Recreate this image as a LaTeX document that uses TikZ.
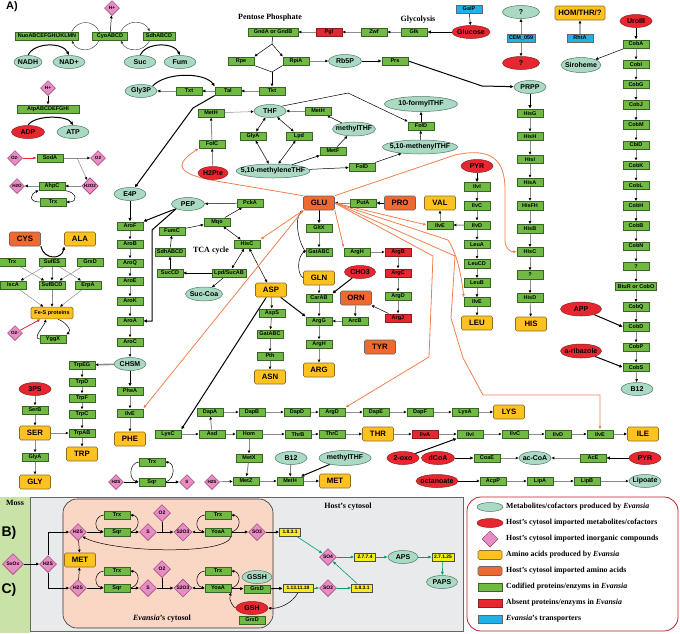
\documentclass[tikz,border=0pt]{standalone}
\usepackage{fontspec}
\setmainfont{Liberation Serif}
\setsansfont{Liberation Sans}
\usetikzlibrary{shapes.geometric,arrows.meta,calc}

\definecolor{enzg}{RGB}{112,186,68}
\definecolor{enzd}{RGB}{56,100,40}
\definecolor{metg}{RGB}{170,218,196}
\definecolor{metd}{RGB}{80,120,100}
\definecolor{impr}{RGB}{232,38,48}
\definecolor{impd}{RGB}{140,30,30}
\definecolor{inop}{RGB}{234,140,196}
\definecolor{inod}{RGB}{140,60,110}
\definecolor{aay}{RGB}{255,194,30}
\definecolor{aad}{RGB}{140,110,40}
\definecolor{iaao}{RGB}{240,106,48}
\definecolor{trnb}{RGB}{30,178,230}
\definecolor{ecy}{RGB}{246,238,28}
\definecolor{orl}{RGB}{240,128,80}
\definecolor{hstg}{RGB}{0,160,110}
\definecolor{mossg}{RGB}{200,226,168}
\definecolor{hostc}{RGB}{232,234,236}
\definecolor{evac}{RGB}{250,214,196}

\newcommand\fsz[1]{\fontsize{#1}{#1}\selectfont}

\pgfdeclarelayer{back}
\pgfdeclarelayer{bg}
\pgfsetlayers{back,bg,main}

\tikzset{
  enz/.style={draw=enzd, fill=enzg, line width=0.5pt, minimum height=8.5pt, minimum width=26pt,
    inner xsep=2pt, inner ysep=0.5pt, font=\fsz{5.5}\sffamily\bfseries},
  absent/.style={enz, fill=impr, draw=impd},
  trn/.style={enz, fill=trnb, draw=black!60},
  ec/.style={enz, fill=ecy, draw=black!70, minimum width=21pt, font=\fsz{4.9}\sffamily\bfseries},
  met/.style={ellipse, draw=metd, fill=metg, line width=0.5pt, inner xsep=-6pt, inner ysep=0.6pt,
    minimum height=13pt, minimum width=32pt, font=\fsz{7}\sffamily\bfseries},
  imp/.style={met, fill=impr, draw=impd},
  ino/.style={diamond, aspect=1, draw=inod, fill=inop, line width=0.5pt, inner sep=0.4pt,
    minimum size=15pt, font=\fsz{4.6}\sffamily\bfseries},
  inob/.style={ino, minimum size=17pt, font=\fsz{5}\sffamily\bfseries},
  aa/.style={rounded corners=1.5pt, draw=aad, fill=aay, line width=0.6pt, minimum height=14pt,
    minimum width=31pt, font=\fsz{7.8}\sffamily\bfseries},
  iaa/.style={aa, fill=iaao, draw=black!60},
  arr/.style={draw=black!45, line width=0.9pt, -{Latex[length=3pt,width=3pt,color=black]}},
  arw/.style={draw=black!45, line width=0.5pt, -{Latex[length=3pt,width=3pt,color=black]}},
  thk/.style={draw=black, line width=1pt, -{Latex[length=3.5pt,width=3.5pt]}},
  thn/.style={draw=black, line width=0.5pt, -{Latex[length=3pt,width=3pt]}},
  dbl/.style={draw=black, line width=0.5pt, {Latex[length=3pt,width=3pt]}-{Latex[length=3pt,width=3pt]}},
  cyc/.style={draw=black!80, line width=0.4pt, -{Latex[length=3pt,width=2.5pt]}},
  ora/.style={draw=orl, line width=0.8pt, -{Latex[length=3.5pt,width=3pt]}},
  rda/.style={draw=impr, line width=0.8pt, -{Latex[length=3.5pt,width=3pt]}},
  hst/.style={draw=hstg, line width=0.6pt, -{Latex[length=3.5pt,width=3pt]}},
  ttl/.style={font=\fsz{8}\rmfamily\bfseries},
  lgt/.style={anchor=west, inner sep=0pt, font=\fsz{7.8}\rmfamily\bfseries},
  pnl/.style={font=\fsz{11}\sffamily\bfseries},
}

\begin{document}
\begin{tikzpicture}[x=1pt,y=-1pt]
\useasboundingbox (0,0) rectangle (680,633);

% panels
\begin{pgfonlayer}{back}
  \fill[mossg] (0,497) rectangle (30,633);
  \draw[fill=hostc, draw=black!60, line width=0.8pt] (30,497) rectangle (463,631);
  \draw[fill=evac, draw=black!80, line width=0.6pt, rounded corners=14pt] (63,499) rectangle (273,628);
  \draw[fill=white, draw=impr!80!black, line width=0.8pt, rounded corners=14pt] (467,497) rectangle (678,631);
\end{pgfonlayer}

\node[pnl] (pa) at (12,7) {A)};
\node[pnl, font=\fsz{14}\sffamily\bfseries] (pb) at (9,533) {B)};
\node[pnl, font=\fsz{14}\sffamily\bfseries] (pc) at (9,590) {C)};

% respiratory chain
\node[ino] (hp1) at (112,8) {H+};
\node[enz, minimum width=63pt] (nuo) at (47,36) {NuoABCEFGHIJKLMN};
\node[enz, minimum width=35pt] (cyo) at (110,36) {CyoABCD};
\node[enz, minimum width=32pt] (sdh) at (159,36) {SdhABCD};
\node[met, minimum width=28pt] (nadh) at (28,62) {NADH};
\node[met] (nadp) at (69,62) {NAD+};
\node[met] (suc) at (140,62) {Suc};
\node[met] (fum) at (180,62) {Fum};
\node[ino] (hp2) at (48,88) {H+};
\node[enz, minimum width=62pt] (atp) at (48,109) {AtpABCDEFGHI};
\node[imp, minimum width=33pt] (adp) at (28,132) {ADP};
\node[met] (atpm) at (73,132) {ATP};

% oxidative stress
\node[ino] (o2m1) at (15,158) {O2-};
\node[enz] (soda) at (50,158) {SodA};
\node[ino] (o2a) at (98,158) {O2};
\node[ino] (h2o2) at (90,186) {H2O2};
\node[enz] (ahpc) at (52,186) {AhpC};
\node[ino] (h2o) at (17,186) {H2O};
\node[enz] (trx1) at (53,202) {Trx};
\coordinate (sj) at (77,158);

% Fe-S clusters
\node[iaa] (cys) at (25,239) {CYS};
\node[aa] (ala) at (80,239) {ALA};
\node[enz] (trx2) at (12,262) {Trx};
\node[enz] (sufes) at (52,262) {SufES};
\node[enz] (grxd1) at (90,262) {GrxD};
\node[enz] (isca) at (13,285) {IscA};
\node[enz] (sufbcd) at (52,285) {SufBCD};
\node[enz] (erpa) at (88,285) {ErpA};
\node[aa, font=\fsz{5.5}\sffamily\bfseries, minimum height=11pt, minimum width=42pt] (fes) at (52,313) {Fe-S proteins};
\node[ino] (o2m2) at (15,333) {O2-};
\node[enz] (yggx) at (53,339) {YggX};

% pentose phosphate, glycolysis
\node[ttl] (ppt) at (270,18) {Pentose Phosphate};
\node[ttl] (glyt) at (418,20) {Glycolysis};
\node[enz, minimum width=50pt] (gnd) at (273,32) {GndA or GndB};
\node[absent] (pgl) at (329,32) {Pgl};
\node[enz] (zwf) at (374,32) {Zwf};
\node[enz] (glk) at (414,32) {Glk};
\node[imp, minimum width=38pt] (glc) at (471,32) {Glucose};
\node[trn] (galp) at (469,9) {GalP};
\node[enz] (rpe) at (241,61) {Rpe};
\node[enz] (rpia) at (296,61) {RpiA};
\node[met, minimum width=33pt] (rb5p) at (345,61) {Rb5P};
\node[enz] (prs) at (395,61) {Prs};
\node[enz] (tkt) at (272,91) {Tkt};
\node[enz] (tal) at (228,91) {Tal};
\node[enz] (txt) at (189,91) {Txt};
\node[met] (gly3p) at (141,91) {Gly3P};
\coordinate (pj1) at (272,44);
\coordinate (pj2) at (272,72);

% folates
\node[enz] (meth1) at (211,113) {MetH};
\node[enz] (folc) at (212,144) {FolC};
\node[imp, minimum width=30pt] (h2pte) at (213,173) {H2Pte};
\node[met] (thf) at (270,111) {THF};
\node[enz] (meth2) at (318,111) {MetH};
\node[met, minimum width=43pt, minimum height=14pt] (mthf) at (354,129) {methylTHF};
\node[enz] (glya1) at (253,136) {GlyA};
\node[enz] (lpd1) at (299,136) {Lpd};
\node[enz] (metf) at (333,151) {MetF};
\node[met, minimum width=73pt, minimum height=15pt] (fthf) at (421,104) {10-formylTHF};
\node[enz] (fold1) at (421,126) {FolD};
\node[met, minimum width=75pt, minimum height=14pt] (menthf) at (420,147) {5,10-methenylTHF};
\node[met, minimum width=73pt, minimum height=14pt] (mlthf) at (273,171) {5,10-methyleneTHF};
\node[enz] (fold2) at (362,167) {FolD};

% chorismate, aromatic amino acids
\node[met] (e4p) at (130,194) {E4P};
\node[met, minimum width=33pt] (pep) at (188,204) {PEP};
\foreach \n/\t/\y in {arof/AroF/226, arob/AroB/244, aroq/AroQ/263, aroe/AroE/281, arok/AroK/301, aroa/AroA/321, aroc/AroC/342}
  \node[enz] (\n) at (130,\y) {\t};
\node[met] (chsm) at (130,364) {CHSM};
\node[enz] (phea) at (130,391) {PheA};
\node[enz] (ilvep) at (130,413) {IlvE};
\node[aa] (phe) at (130,439) {PHE};
\foreach \n/\t/\y in {trpeg/TrpEG/365, trpd/TrpD/382, trpf/TrpF/398, trpc/TrpC/414, trpab/TrpAB/433}
  \node[enz] (\n) at (82,\y) {\t};
\node[aa] (trp) at (82,454) {TRP};
\node[imp] (tps) at (35,389) {3PS};
\node[enz] (serb) at (35,410) {SerB};
\node[aa] (ser) at (35,433) {SER};
\node[enz] (glya2) at (35,457) {GlyA};
\node[aa] (gly) at (35,482) {GLY};

% TCA cycle
\node[enz] (pcka) at (250,203) {PckA};
\node[enz] (mqo) at (217,222) {Mqo};
\node[enz] (fumc) at (172,231) {FumC};
\node[enz] (sdh2) at (170,252) {SdhABCD};
\node[enz] (succd) at (170,273) {SucCD};
\node[enz] (lpdsuc) at (229,273) {Lpd/SucAB};
\node[met, minimum width=37pt, minimum height=14pt] (succoa) at (204,294) {Suc-Coa};
\node[enz] (hisct) at (247,244) {HisC};
\node[ttl] (tcat) at (211,251) {TCA cycle};

% glutamate, arginine, asparagine
\node[iaa] (glu) at (319,203) {GLU};
\node[enz] (puta) at (363,203) {PutA};
\node[iaa] (pro) at (400,203) {PRO};
\node[enz] (gltx) at (319,228) {GltX};
\node[enz] (gatabc1) at (319,252) {GatABC};
\node[aa] (gln) at (319,278) {GLN};
\node[enz] (carab) at (319,298) {CarAB};
\node[imp, minimum width=31pt] (cho3) at (360,272) {CHO3};
\node[enz] (argh1) at (357,252) {ArgH};
\node[absent] (argb) at (398,252) {ArgB};
\node[absent] (argc) at (398,273) {ArgC};
\node[enz] (argd1) at (398,296) {ArgD};
\node[absent] (argj) at (398,318) {ArgJ};
\node[iaa] (orn) at (356,298) {ORN};
\node[enz] (arcb) at (355,321) {ArcB};
\node[enz] (argg) at (319,321) {ArgG};
\node[enz] (argh2) at (319,344) {ArgH};
\node[aa] (arg) at (319,370) {ARG};
\node[iaa] (tyr) at (380,347) {TYR};
\node[aa] (asp) at (271,290) {ASP};
\node[enz] (asps) at (272,313) {AspS};
\node[enz] (gatabc2) at (270,334) {GatABC};
\node[enz] (pth) at (270,356) {Pth};
\node[aa] (asn) at (270,377) {ASN};

% lysine, threonine, isoleucine
\foreach \n/\t/\x in {dapa/DapA/210, dapb/DapB/252, dapd/DapD/297, argd2/ArgD/332, dape/DapE/376, dapf/DapF/420, lysa/LysA/465}
  \node[enz] (\n) at (\x,412) {\t};
\node[aa] (lys) at (509,412) {LYS};
\node[enz] (lysc) at (168,434) {LysC};
\node[enz] (asd) at (212,434) {Asd};
\node[enz] (hom) at (249,434) {Hom};
\node[enz] (thrb) at (298,434) {ThrB};
\node[enz] (thrc) at (332,434) {ThrC};
\node[aa] (thr) at (378,434) {THR};
\node[absent] (ilva) at (425,434) {IlvA};
\node[enz] (ilvi) at (470,434) {IlvI};
\node[enz] (ilvc) at (515,434) {IlvC};
\node[enz] (ilvd) at (558,434) {IlvD};
\node[enz] (ilve3) at (600,434) {IlvE};
\node[aa] (ile) at (643,434) {ILE};

% methionine, CoA, lipoate
\node[enz] (metx) at (249,458) {MetX};
\node[met] (b12b) at (291,458) {B12};
\node[met, minimum width=52pt, minimum height=15pt] (mthf2) at (345,458) {methylTHF};
\node[enz] (metz) at (246,481) {MetZ};
\node[enz] (meth3) at (290,481) {MetH};
\node[aa] (met1) at (335,481) {MET};
\node[imp] (oxo) at (403,458) {2-oxo};
\node[imp, minimum width=33pt] (dcoa) at (438,458) {dCoA};
\node[enz] (coae) at (487,458) {CoaE};
\node[met] (accoa) at (535,458) {ac-CoA};
\node[enz] (ace) at (593,458) {AcE};
\node[imp] (pyr2) at (645,458) {PYR};
\node[imp, minimum width=42pt] (octa) at (437,481) {octanoate};
\node[enz] (acpp) at (493,481) {AcpP};
\node[enz] (lipa) at (540,481) {LipA};
\node[enz] (lipb) at (587,481) {LipB};
\node[met] (lipo) at (645,481) {Lipoate};
\node[ino] (h2s1) at (116,482) {H2S};
\node[enz] (sqr1) at (152,482) {Sqr};
\node[ino] (s1) at (187,482) {S};
\node[ino] (h2s2) at (212,482) {H2S};
\node[enz] (trx3) at (152,462) {Trx};

% histidine, leucine, valine
\node[met] (prpp) at (530,87) {PRPP};
\foreach \n/\t [count=\i] in {hisg/HisG, hish/HisH, hisi/HisI, hisa/HisA, hisfh/HisFH, hisb/HisB, hisc2/HisC, hisq/?, hisd/HisD}
  \node[enz] (\n) at (530,{90+23.1*\i}) {\t};
\node[aa] (his) at (531,324) {HIS};
\node[imp] (pyr1) at (477,166) {PYR};
\foreach \n/\t [count=\i] in {ilvi1/IlvI, ilvc1/IlvC, ilvd1/IlvD, leua/LeuA, leucd/LeuCD, leub/LeuB, ilvel/IlvE}
  \node[enz] (\n) at (477,{167.5+19.2*\i}) {\t};
\node[aa] (leu) at (477,323) {LEU};
\node[aa] (val) at (440,203) {VAL};
\node[enz] (ilvev) at (440,225) {IlvE};

% transporters, cobalamin
\node[met, minimum width=37pt] (q1) at (521,12) {?};
\node[trn] (cem) at (521,38) {CEM\_059};
\node[imp, minimum width=37pt] (q2) at (521,63) {?};
\node[aa, minimum width=49pt] (hom2) at (580,13) {HOM/THR/?};
\node[trn] (rhta) at (580,38) {RhtA};
\node[imp] (uro) at (636,21) {UroIII};
\node[met, minimum width=40pt, minimum height=15pt] (sirh) at (581,65) {Siroheme};
\foreach \t [count=\i] in {CobA, CobI, CobG, CobJ, CobM, CbiD, CobK, CobL, CobH, CobB, CobN, ?, BtuR or CobO, CobQ, CobD, CobP, CobS}
  \node[enz] (cob\i) at (636,{23.8+20.2*\i}) {\t};
\node[met] (b12a) at (637,389) {B12};
\node[imp, minimum width=41pt, minimum height=14pt] (app) at (581,309) {APP};
\node[imp, minimum width=41pt, minimum height=14pt] (ribaz) at (581,351) {a-ribazole};

% B) and C)
\node[ttl] (moss) at (15,503) {Moss};
\node[ttl] (hostl) at (348,507) {Host's cytosol};
\node[ttl] (eval) at (162,619) {\textit{Evansia}'s cytosol};
\node[inob, minimum size=21pt] (sxox) at (13,564) {SxOx};
\node[inob] (h2sm) at (48,564) {H2S};
\coordinate (hb) at (48,532);
\coordinate (hc) at (48,588);
\node[aa] (metb) at (80,560) {MET};
\node[inob] (h2sb) at (78,532) {H2S};
\node[enz] (sqrb) at (117,532) {Sqr};
\node[enz] (trxb1) at (117,515) {Trx};
\node[inob] (sb) at (148,532) {S};
\node[inob] (o2b) at (162,513) {O2};
\node[inob] (s2o3b) at (183,532) {S2O3};
\node[enz] (yoaab) at (218,532) {YoaA};
\node[enz] (trxb2) at (218,515) {Trx};
\node[inob] (so3b) at (257,532) {SO3};
\node[ec] (ec1b) at (290,532) {1.8.3.1};
\coordinate (ob) at (162,532);
\node[inob] (h2sc) at (78,588) {H2S};
\node[enz] (sqrc) at (117,588) {Sqr};
\node[enz] (trxc1) at (117,571) {Trx};
\node[inob] (sc) at (148,588) {S};
\node[inob] (o2c) at (162,569) {O2};
\node[inob] (s2o3c) at (183,588) {S2O3};
\node[enz] (yoaac) at (218,588) {YoaA};
\node[enz] (trxc2) at (218,571) {Trx};
\coordinate (oc) at (162,588);
\node[met, minimum width=30pt] (gssh) at (257,577) {GSSH};
\node[enz] (grxdc) at (257,589) {GrxD};
\node[imp] (gsh) at (252,608) {GSH};
\node[enz] (grxdc2) at (252,620) {GrxD};
\node[ec, minimum width=30pt] (ec2) at (298,588) {1.13.11.18};
\node[inob] (so3c) at (328,588) {SO3};
\node[ec] (ec1c) at (362,588) {1.8.3.1};
\node[inob] (so4) at (328,557) {SO4};
\node[ec] (ec3) at (365,557) {2.7.7.4};
\node[met, minimum width=30pt] (aps) at (403,557) {APS};
\node[ec] (ec4) at (443,557) {2.7.1.25};
\node[met, minimum width=31pt] (paps) at (442,582) {PAPS};

% legend
\node[met, minimum width=26pt, minimum height=9pt] (lg1) at (490,507) {};
\node[imp, minimum width=26pt, minimum height=9pt] (lg2) at (490,523) {};
\node[ino, minimum size=16pt] (lg3) at (490,539) {};
\node[aa, minimum width=24pt, minimum height=9pt] (lg4) at (490,555) {};
\node[iaa, minimum width=24pt, minimum height=9pt] (lg5) at (490,571) {};
\node[enz, minimum width=24pt, minimum height=8pt] (lg6) at (490,587) {};
\node[absent, minimum width=24pt, minimum height=8pt] (lg7) at (490,603) {};
\node[trn, minimum width=24pt, minimum height=8pt] (lg8) at (490,619) {};
\node[lgt] (lt1) at (506,507) {Metabolites/cofactors produced by \textit{Evansia}};
\node[lgt] (lt2) at (506,523) {Host's cytosol imported metabolites/cofactors};
\node[lgt] (lt3) at (506,539) {Host's cytosol imported inorganic compounds};
\node[lgt] (lt4) at (506,555) {Amino acids produced by \textit{Evansia}};
\node[lgt] (lt5) at (506,571) {Host's cytosol imported amino acids};
\node[lgt] (lt6) at (506,587) {Codified proteins/enzyms in \textit{Evansia}};
\node[lgt] (lt7) at (506,603) {Absent proteins/enzyms in \textit{Evansia}};
\node[lgt] (lt8) at (506,619) {\textit{Evansia}'s transporters};

\begin{pgfonlayer}{bg}
% respiration
\draw[thn] (cyo) -- (hp1);
\draw[cyc,-] ([xshift=-7pt]nuo.north east) .. controls +(6,-12) and +(-6,-12) .. ([xshift=7pt]cyo.north west);
\draw[cyc] ([xshift=7pt]cyo.south west) .. controls +(-6,12) and +(6,12) .. ([xshift=-7pt]nuo.south east);
\draw[cyc] ([xshift=-7pt]cyo.north east) .. controls +(6,-12) and +(-6,-12) .. ([xshift=7pt]sdh.north west);
\draw[cyc] ([xshift=7pt]sdh.south west) .. controls +(-6,12) and +(6,12) .. ([xshift=-7pt]cyo.south east);
\draw[thk] (nadh.north) .. controls (34,42) and (63,42) .. (nadp.north);
\draw[thk] (suc.north) .. controls (146,42) and (174,42) .. (fum.north);
\draw[thn] (hp2) -- (atp);
\draw[thk] (adp.north) .. controls (34,115) and (67,115) .. (atpm.north);

% oxidative stress
\draw[rda] (o2m1) -- (soda);
\draw[arw] (soda) -- (o2a);
\draw[arw] (sj) -- (h2o2);
\draw[arw] (h2o2) -- (ahpc);
\draw[arw] (ahpc) -- (h2o);
\draw[thn] (ahpc.south east) .. controls +(12,2) and +(12,0) .. (trx1.east);
\draw[thn] (trx1.west) .. controls +(-12,0) and +(-8,3) .. (ahpc.south west);

% Fe-S
\draw[thk] (cys.south east) .. controls (44,260) and (62,260) .. (ala.south west);
\foreach \a/\b in {trx2/sufbcd, sufes/isca, sufes/sufbcd, sufes/erpa, grxd1/sufbcd, isca/fes, sufbcd/fes, erpa/fes}
  \draw[arw] (\a) -- (\b);
\draw[rda] (o2m2) -- (fes);
\draw[thn] (yggx.west) .. controls +(-8,0) and +(-2,7) .. ([xshift=-6pt]fes.south);
\draw[thn] ([xshift=6pt]fes.south) .. controls +(8,3) and +(6,-4) .. (yggx.north east);

% pentose phosphate, glycolysis
\draw[thn] (galp) -- (glc);
\draw[thk] (glc) -- (glk);
\draw[arr] (glk) -- (zwf);
\draw[arr] (zwf) -- (pgl);
\draw[arr] (pgl) -- (gnd);
\draw[line width=0.5pt] (gnd) -- (pj1);
\draw[thn] (pj1) -- (rpe.north east);
\draw[thn] (pj1) -- (rpia.north west);
\draw[line width=0.5pt] (rpe.south east) -- (pj2) -- (rpia.south west);
\draw[thn] (pj2) -- (tkt);
\draw[arw] (rpia) -- (rb5p);
\draw[thk] (rb5p) -- (prs);
\draw[thk] (prs.east) -- (482,86) -- (prpp);
\draw[arw] (tkt) -- (tal);
\draw[arw] (tal) -- (txt);
\draw[arw] (txt) -- (gly3p);
\draw[thk] (gly3p.north east) .. controls (165,72) and (205,72) .. (tal.north west);
\draw[thk] (tal.south west) -- (193,108) -- (e4p);

% folates
\draw[arr] (h2pte) -- (folc);
\draw[arr] (folc) -- (meth1);
\draw[arw] (meth1) -- (thf);
\draw[arw] (meth2) -- (thf);
\draw[thn] (mthf) -- (meth2);
\draw[thn] (metf) -- (mthf);
\draw[dbl] (thf) -- (glya1);
\draw[dbl] (thf) -- (lpd1);
\draw[dbl] (glya1) -- (mlthf);
\draw[dbl] (lpd1) -- (mlthf);
\draw[thn] (mlthf) -- (metf);
\draw[thn] (mlthf) -- (fold2);
\draw[thn] (fold2) -- (menthf);
\draw[thn] (menthf) -- (fold1);
\draw[thn] (fold1) -- (fthf);
\draw[thn] (thf.north east) -- (348,93) -- (fold1.north west);

% aromatic amino acids
\draw[thk] (e4p) -- (arof);
\draw[thk] (pep) -- (arof.north east);
\draw[thk] (pep.south west) -- (152,230) -- (152,321) -- (aroa.east);
\foreach \a/\b in {arof/arob, arob/aroq, aroq/aroe, aroe/arok, arok/aroa, aroa/aroc, aroc/chsm, phea/ilvep, ilvep/phe,
    trpeg/trpd, trpd/trpf, trpf/trpc, trpc/trpab, trpab/trp, tps/serb, serb/ser, ser/glya2, glya2/gly, ser/trpab}
  \draw[arr] (\a) -- (\b);
\draw[thk] (chsm) -- (phea);
\draw[arr, line width=1.6pt] (chsm) -- (trpeg);

% TCA
\draw[thn] (pcka) -- (pep);
\draw[thn] (mqo) -- (pcka);
\draw[thn] (fumc) -- (mqo);
\draw[thn] (sdh2) -- (fumc);
\draw[thn] (succd) -- (sdh2);
\draw[thn] (lpdsuc) -- (succd);
\draw[thn] (lpdsuc) -- (succoa);
\draw[dbl] (mqo) -- (hisct);
\draw[dbl] (hisct) -- (lpdsuc);
\draw[dbl] (hisct) -- (asp);

% glutamate, arginine, asparagine
\draw[thk] (pro) -- (puta);
\draw[arr] (puta) -- (glu);
\draw[thk] (glu) -- (gltx);
\draw[arr] (gltx) -- (gatabc1);
\draw[thn] (gatabc1.west) .. controls (298,242) and (294,218) .. (glu.south west);
\draw[thn] (gln.west) .. controls (297,274) and (297,258) .. ([yshift=2pt]gatabc1.west);
\draw[arr] (gln) -- (carab);
\draw[thk] (cho3) -- (carab.north east);
\draw[arr] (carab) -- (argg);
\foreach \a/\b in {argh1/argb, argb/argc, argc/argd1, argd1/argj, orn/arcb, arcb/argg, argg/argh2, argh2/arg, asp/asps, asps/gatabc2, gatabc2/pth, pth/asn}
  \draw[arr] (\a) -- (\b);
\draw[thn] (argj) -- (orn);
\draw[thk] (asp) -- (argg.north west);
\draw[thk] (asp) -- (lysc.north east);

% lysine, threonine, isoleucine
\draw[arr] (lysc) -- (asd);
\draw[arr] (asd) -- (dapa);
\foreach \a/\b in {dapa/dapb, dapb/dapd, dapd/argd2, argd2/dape, dape/dapf, dapf/lysa, lysa/lys,
    asd/hom, hom/thrb, thrb/thrc, thrc/thr, thr/ilva, ilva/ilvi, ilvi/ilvc, ilvc/ilvd, ilvd/ilve3, ilve3/ile}
  \draw[arr] (\a) -- (\b);
\draw[thk] (oxo) -- (ilvi.south west);

% methionine, CoA, lipoate
\foreach \a/\b in {hom/metx, metx/metz, metz/meth3, meth3/met1, b12b/meth3, coae/accoa, ace/accoa, acpp/lipa, lipa/lipb, lipb/lipo, h2s2/metz}
  \draw[arr] (\a) -- (\b);
\draw[thk] (mthf2) -- (meth3);
\draw[thk] (dcoa) -- (coae);
\draw[thk] (pyr2) -- (ace);
\draw[thn] (octa) -- (acpp);
\draw[thk, line width=0.8pt] (h2s1) -- (sqr1);
\draw[thk, line width=0.8pt] (sqr1) -- (s1);
\draw[thn] (trx3.west) .. controls +(-10,1) and +(-10,-2) .. (sqr1.west);
\draw[thn] (sqr1.east) .. controls +(10,-2) and +(10,1) .. (trx3.east);

% histidine, leucine, valine
\draw[thk] (prpp) -- (hisg);
\foreach \a/\b in {hisg/hish, hish/hisi, hisi/hisa, hisa/hisfh, hisfh/hisb, hisb/hisc2, hisc2/hisq, hisq/hisd, hisd/his,
    ilvi1/ilvc1, ilvc1/ilvd1, ilvd1/leua, leua/leucd, leucd/leub, leub/ilvel, ilvel/leu, ilvd1/ilvev, ilvev/val}
  \draw[arr] (\a) -- (\b);
\draw[thk] (pyr1) -- (ilvi1);

% transporters, cobalamin
\draw[arw] (cem) -- (q1);
\draw[arw] (cem) -- (q2);
\draw[arr, draw=black!30, line width=1.4pt] (rhta) -- (hom2);
\draw[thk] (uro) -- (cob1);
\draw[thn] (cob1) -- (sirh);
\foreach \i [count=\j from 2] in {1,...,16}
  \draw[arr] (cob\i) -- (cob\j);
\draw[arr] (cob17) -- (b12a);
\draw[thk] (app) -- (cob15.west);
\draw[thk] (ribaz) -- (cob17.west);

% glutamate as amino donor
\draw[ora] (glu.north west) -- (228,183) .. controls (190,177) and (165,170) .. (folc.south west);
\draw[ora] (glu.south west) -- (hisct.north east);
\draw[ora] (glu.south west) -- (ilvep.north east);
\draw[ora] (glu.south east) -- (argh1.north west);
\draw[ora] (glu.east) -- (ilvev.west);
\draw[ora] (glu.north east) -- (455,155) .. controls (492,147) and (505,160) .. (505,190) -- (505,240) .. controls (505,248) and (510,252) .. (hisc2.west);
\draw[ora] (glu.east) -- (448,240) .. controls (458,255) and (462,280) .. (ilvel.north west);
\draw[ora] (glu.east) -- (433,256) -- (429,357) -- (argd2.north east);
\draw[ora] (glu.east) -- (455,256) -- (451,318) -- (463,358) -- (483,395) -- (600,395) -- (ilve3.north);

% B) and C)
\draw[thn, line width=0.8pt] (sxox) -- (h2sm);
\draw[thn, line width=0.8pt] (h2sm) -- (hb) -- (h2sb);
\draw[thn, line width=0.8pt] (h2sm) -- (hc) -- (h2sc);
\draw[thn] (h2sb) -- (metb);
\draw[thn] (h2sc) -- (metb);
\draw[thk, line width=0.8pt] (h2sb) -- (sqrb);
\draw[thk, line width=0.8pt] (sqrb) -- (sb);
\draw[thk, line width=0.8pt] (sb) -- (s2o3b);
\draw[line width=0.5pt] (o2b) -- (ob);
\draw[dbl] (s2o3b) -- (yoaab);
\draw[thk, line width=0.8pt] (yoaab) -- (so3b);
\draw[thk, line width=0.8pt] (so3b) -- (ec1b);
\draw[thn] (trxb1.west) .. controls +(-10,1) and +(-10,-2) .. (sqrb.west);
\draw[thn] (sqrb.east) .. controls +(10,-2) and +(10,1) .. (trxb1.east);
\draw[thn] (trxb2.west) .. controls +(-10,1) and +(-10,-2) .. (yoaab.west);
\draw[thn] (yoaab.east) .. controls +(10,-2) and +(10,1) .. (trxb2.east);
\draw[thn] (yoaab.south east) .. controls (226,556) and (110,552) .. (h2sb.south east);
\draw[thk, line width=0.8pt] (h2sc) -- (sqrc);
\draw[thk, line width=0.8pt] (sqrc) -- (sc);
\draw[thk, line width=0.8pt] (sc) -- (s2o3c);
\draw[line width=0.5pt] (o2c) -- (oc);
\draw[dbl] (s2o3c) -- (yoaac);
\draw[thn] (trxc1.west) .. controls +(-10,1) and +(-10,-2) .. (sqrc.west);
\draw[thn] (sqrc.east) .. controls +(10,-2) and +(10,1) .. (trxc1.east);
\draw[thn] (trxc2.west) .. controls +(-10,1) and +(-10,-2) .. (yoaac.west);
\draw[thn] (yoaac.east) .. controls +(10,-2) and +(10,1) .. (trxc2.east);
\draw[thk, line width=0.8pt] (yoaac) -- (grxdc);
\draw[thk, line width=0.8pt] (grxdc) -- (ec2);
\draw[thn] (ec2.south) .. controls (292,604) and (278,609) .. (gsh.east);
\draw[thn] (gsh.west) .. controls (234,608) and (228,600) .. (yoaac.south east);
\draw[hst] (ec2) -- (so3c);
\draw[hst] (so3c) -- (ec1c);
\draw[hst] (ec1c) -- (so4);
\draw[hst] (ec1b) -- (so4);
\draw[hst] (so4) -- (ec3);
\draw[hst] (ec3) -- (aps);
\draw[hst] (aps) -- (ec4);
\draw[hst] (ec4) -- (paps);
\end{pgfonlayer}
\end{tikzpicture}
\end{document}
